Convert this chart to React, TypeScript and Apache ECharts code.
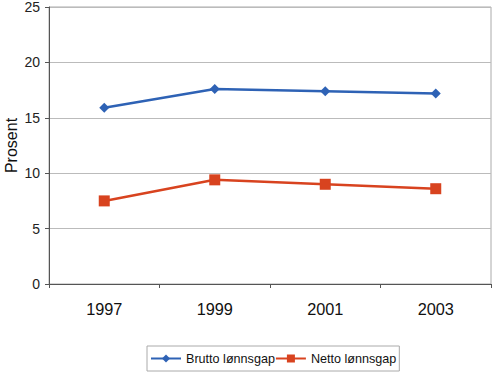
import React, { useEffect, useRef } from "react";
import * as echarts from "echarts";

const categories = ["1997", "1999", "2001", "2003"];
const brutto = [15.9, 17.6, 17.4, 17.2];
const netto = [7.5, 9.4, 9.0, 8.6];
const seriesNames = ["Brutto lønnsgap", "Netto lønnsgap"];
const yAxisName = "Prosent";

export default function App() {
  const ref = useRef<HTMLDivElement>(null);
  useEffect(() => {
    const chart = echarts.init(ref.current!, null, { renderer: "svg" });
    const font = "Liberation Sans, Arial, sans-serif";
    chart.setOption({
      animation: false,
      backgroundColor: "#fff",
      textStyle: { fontFamily: font },
      grid: {
        left: 49, right: 9, top: 7, bottom: 88,
        show: true, borderColor: "#aaa", borderWidth: 1,
        containLabel: false, outerBoundsMode: "none",
      },
      legend: {
        bottom: 1,
        left: 147,
        itemWidth: 30,
        itemHeight: 10,
        itemGap: 0,
        borderColor: "#aaa",
        borderWidth: 1,
        borderRadius: 0,
        padding: [6, 3, 6, 3],
        textStyle: { fontSize: 12.6, color: "#111", fontFamily: font },
        data: seriesNames,
      },
      xAxis: {
        type: "category",
        data: categories,
        boundaryGap: true,
        axisLine: { lineStyle: { color: "#555" } },
        axisTick: { show: true, length: 4, lineStyle: { color: "#555" } },
        axisLabel: { fontSize: 16.3, color: "#111", margin: 17 },
      },
      yAxis: {
        type: "value",
        min: 0,
        max: 25,
        interval: 5,
        name: yAxisName,
        nameLocation: "middle",
        nameGap: 30,
        nameMoveOverlap: false,
        nameTextStyle: { fontSize: 16, color: "#111" },
        axisLine: { show: true, lineStyle: { color: "#555" } },
        axisTick: { show: true, length: 4, lineStyle: { color: "#555" } },
        axisLabel: { fontSize: 14, color: "#222", margin: 9 },
        splitLine: { lineStyle: { color: "#bbb" } },
      },
      series: [
        {
          name: seriesNames[0],
          type: "line",
          data: brutto,
          symbol: "diamond",
          symbolSize: 10,
          itemStyle: { color: "#2E62B5" },
          lineStyle: { color: "#2E62B5", width: 2.5 },
        },
        {
          name: seriesNames[1],
          type: "line",
          data: netto,
          symbol: "rect",
          symbolSize: 11,
          itemStyle: { color: "#D8431F" },
          lineStyle: { color: "#D8431F", width: 2.5 },
        },
      ],
    });
    return () => chart.dispose();
  }, []);
  return <div ref={ref} style={{ width: 500, height: 372, position: "absolute", left: 0, top: 0 }} />;
}
